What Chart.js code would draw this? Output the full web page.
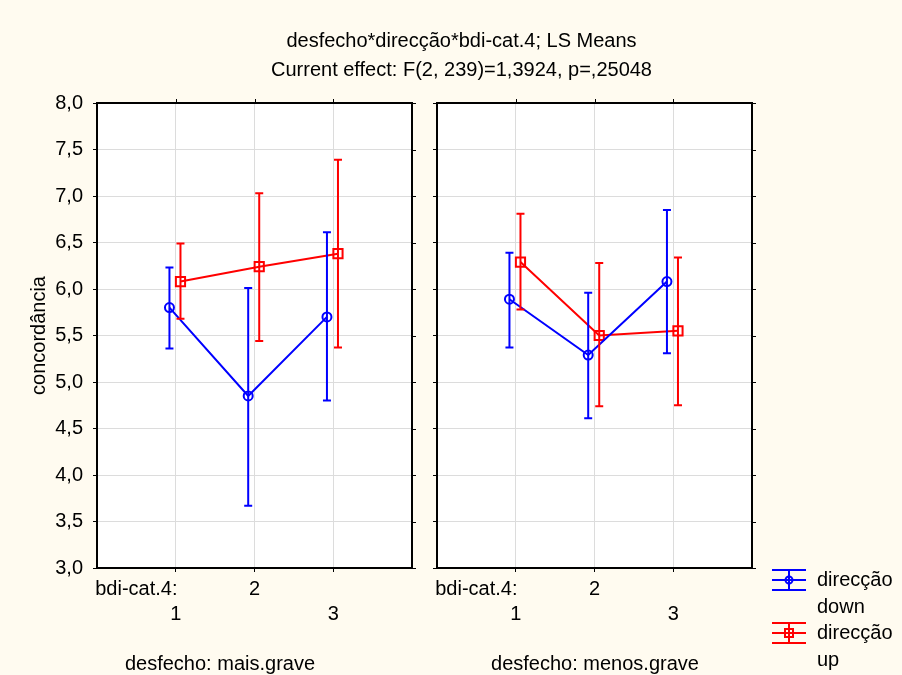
<!DOCTYPE html>
<html>
<head>
<meta charset="utf-8">
<script src="https://cdn.jsdelivr.net/npm/chart.js@4.4.0/dist/chart.umd.min.js"></script>
<style>
  body { margin: 0; background: #fffbf0; font-family: "Liberation Sans", Arial, sans-serif; }
  #wrap { position: relative; width: 902px; height: 675px; overflow: hidden; }
  #wrap canvas { position: absolute; left: 0; top: 0; }
  .txt { position: absolute; font-size: 20px; line-height: 20px; color: #000; white-space: nowrap; text-align: center; }
</style>
</head>
<body>
<div id="wrap">
  <canvas id="panelMais" width="902" height="675"></canvas>
  <canvas id="panelMenos" width="902" height="675"></canvas>
  <div class="txt" style="left:0; width:923px; top:30px;">desfecho*direcção*bdi-cat.4; LS Means</div>
  <div class="txt" style="left:0; width:923px; top:59px;">Current effect: F(2, 239)=1,3924, p=,25048</div>
  <div class="txt" style="left:20px; width:400px; top:653px;">desfecho: mais.grave</div>
  <div class="txt" style="left:395px; width:400px; top:653px;">desfecho: menos.grave</div>
</div>
<script>
// bdi-cat.4 levels and LS means with 95% limits, per desfecho panel
const bdiCats = [1, 2, 3];

const maisDown = [5.80, 4.85, 5.70];
const maisDownLo = [5.36, 3.67, 4.80];
const maisDownHi = [6.23, 6.01, 6.61];
const maisUp = [6.08, 6.24, 6.38];
const maisUpLo = [5.68, 5.44, 5.37];
const maisUpHi = [6.49, 7.03, 7.39];

const menosDown = [5.89, 5.29, 6.08];
const menosDownLo = [5.37, 4.61, 5.31];
const menosDownHi = [6.39, 5.96, 6.85];
const menosUp = [6.29, 5.50, 5.55];
const menosUpLo = [5.78, 4.74, 4.75];
const menosUpHi = [6.81, 6.28, 6.34];

const yTicks = [3.0, 3.5, 4.0, 4.5, 5.0, 5.5, 6.0, 6.5, 7.0, 7.5, 8.0];
const seriesNames = ['down', 'up'];
const factorName = 'direcção';

const BLUE = '#0000ff';
const RED = '#ff0000';
const GRID = '#dcdcdc';
const DOWN_SHIFT = -0.08;
const UP_SHIFT = 0.06;
const LABEL_TICK = 0.5;
const FONT = { family: '"Liberation Sans", Arial, sans-serif', size: 20 };

const fmtComma = (v) => v.toFixed(1).replace('.', ',');

// white plot area under the grid
const plotBackground = {
    id: 'plotBackground',
    beforeDraw(chart) {
        const {ctx, chartArea: a} = chart;
        ctx.save();
        ctx.fillStyle = '#ffffff';
        ctx.fillRect(a.left, a.top, a.right - a.left, a.bottom - a.top);
        ctx.restore();
    }
};

// black box round the plot, with mirrored ticks on top and right
const frame = {
    id: 'frame',
    beforeDatasetsDraw(chart) {
        const {ctx, chartArea: a, scales} = chart;
        ctx.save();
        ctx.strokeStyle = '#000';
        ctx.lineWidth = 1;
        ctx.beginPath();
        scales.x.ticks.forEach(t => {
            if (t.value === LABEL_TICK) return;
            const px = Math.round(scales.x.getPixelForValue(t.value)) + 0.5;
            ctx.moveTo(px, a.top);
            ctx.lineTo(px, a.top - 4);
        });
        scales.y.ticks.forEach(t => {
            const py = Math.round(scales.y.getPixelForValue(t.value)) + 0.5;
            ctx.moveTo(a.right, py);
            ctx.lineTo(a.right + 4, py);
        });
        ctx.stroke();
        ctx.lineWidth = 2;
        ctx.strokeRect(Math.round(a.left), Math.round(a.top), Math.round(a.right - a.left), Math.round(a.bottom - a.top));
        ctx.restore();
    }
};

// vertical confidence bars with caps
const errorBars = {
    id: 'errorBars',
    afterDatasetsDraw(chart) {
        const {ctx, scales} = chart;
        ctx.save();
        ctx.lineWidth = 2;
        chart.data.datasets.forEach((ds, di) => {
            const meta = chart.getDatasetMeta(di);
            ctx.strokeStyle = ds.borderColor;
            ctx.beginPath();
            meta.data.forEach((pt, i) => {
                const yLo = scales.y.getPixelForValue(ds.lo[i]);
                const yHi = scales.y.getPixelForValue(ds.hi[i]);
                ctx.moveTo(pt.x, yLo);
                ctx.lineTo(pt.x, yHi);
                ctx.moveTo(pt.x - 4, yLo);
                ctx.lineTo(pt.x + 4, yLo);
                ctx.moveTo(pt.x - 4, yHi);
                ctx.lineTo(pt.x + 4, yHi);
            });
            ctx.stroke();
        });
        ctx.restore();
    }
};

// legend at the right: error-bar glyph plus two-line label
const sideLegend = {
    id: 'sideLegend',
    afterDraw(chart) {
        const {ctx} = chart;
        const x0 = 772, w = 34, rows = [580, 633];
        ctx.save();
        ctx.font = `20px ${FONT.family}`;
        ctx.textBaseline = 'middle';
        chart.data.datasets.forEach((ds, di) => {
            const cy = rows[di];
            const cx = x0 + w / 2;
            ctx.strokeStyle = ds.borderColor;
            ctx.lineWidth = 2;
            ctx.beginPath();
            [-10, 0, 10].forEach(dy => {
                ctx.moveTo(x0, cy + dy);
                ctx.lineTo(x0 + w, cy + dy);
            });
            ctx.moveTo(cx, cy - 10);
            ctx.lineTo(cx, cy + 10);
            ctx.stroke();
            ctx.beginPath();
            if (ds.pointStyle === 'rect') {
                ctx.rect(cx - 4, cy - 4, 8, 8);
            } else {
                ctx.arc(cx, cy, 3.5, 0, Math.PI * 2);
            }
            ctx.stroke();
            ctx.fillStyle = '#000';
            ctx.fillText(factorName, 817, cy);
            ctx.fillText(ds.label, 817, cy + 27);
        });
        ctx.restore();
    }
};

const xTickLines = (v) => {
    if (v === LABEL_TICK) return ['bdi-cat.4:', ''];
    return v === 2 ? [String(v), ''] : ['', String(v)];
};

const makeDataset = (label, means, lo, hi, shift, color, style, radius) => ({
    label: label,
    data: bdiCats.map((c, i) => ({x: c + shift, y: means[i]})),
    lo: lo,
    hi: hi,
    showLine: true,
    borderColor: color,
    borderWidth: 2,
    pointStyle: style,
    pointRadius: radius,
    pointBorderWidth: 2,
    pointBorderColor: color,
    pointBackgroundColor: 'rgba(0,0,0,0)'
});

const makePanel = (canvasId, panel) => {
    const ctx = document.getElementById(canvasId).getContext('2d');
    return new Chart(ctx, {
        type: 'scatter',
        data: {
            datasets: [
                makeDataset(seriesNames[0], panel.down, panel.downLo, panel.downHi, DOWN_SHIFT, BLUE, 'circle', 4.5),
                makeDataset(seriesNames[1], panel.up, panel.upLo, panel.upHi, UP_SHIFT, RED, 'rect', 6.5)
            ]
        },
        options: {
            responsive: false,
            animation: false,
            devicePixelRatio: 1,
            layout: {padding: {top: 103, bottom: 0, left: 0, right: 902 - panel.right}},
            plugins: {legend: {display: false}, tooltip: {enabled: false}},
            scales: {
                x: {
                    type: 'linear',
                    min: 0,
                    max: 4,
                    afterBuildTicks: (s) => { s.ticks = [LABEL_TICK, ...bdiCats].map(v => ({value: v})); },
                    afterFit: (s) => { s.height = 107; },
                    border: {display: false},
                    grid: {
                        color: (c) => (c.tick && c.tick.value === LABEL_TICK) ? 'rgba(0,0,0,0)' : GRID,
                        tickColor: (c) => (c.tick && c.tick.value === LABEL_TICK) ? 'rgba(0,0,0,0)' : '#000',
                        tickLength: 4
                    },
                    ticks: {
                        callback: xTickLines,
                        autoSkip: false,
                        maxRotation: 0,
                        minRotation: 0,
                        padding: 5,
                        color: '#000',
                        font: {...FONT, lineHeight: 1.25}
                    }
                },
                y: {
                    min: 3,
                    max: 8,
                    afterBuildTicks: (s) => { s.ticks = yTicks.map(v => ({value: v})); },
                    afterFit: (s) => { s.width = panel.left; },
                    border: {display: false},
                    grid: {color: GRID, tickColor: '#000', tickLength: 4},
                    ticks: {
                        display: panel.showY,
                        callback: fmtComma,
                        padding: 10,
                        color: '#000',
                        font: FONT
                    },
                    title: {
                        display: panel.showY,
                        text: 'concordância',
                        color: '#000',
                        font: FONT,
                        padding: {top: 27, bottom: 0}
                    }
                }
            }
        },
        plugins: [plotBackground, frame, errorBars].concat(panel.legend ? [sideLegend] : [])
    });
};

makePanel('panelMais', {
    left: 97, right: 412, showY: true, legend: false,
    down: maisDown, downLo: maisDownLo, downHi: maisDownHi,
    up: maisUp, upLo: maisUpLo, upHi: maisUpHi
});

makePanel('panelMenos', {
    left: 437, right: 752, showY: false, legend: true,
    down: menosDown, downLo: menosDownLo, downHi: menosDownHi,
    up: menosUp, upLo: menosUpLo, upHi: menosUpHi
});
</script>
</body>
</html>
